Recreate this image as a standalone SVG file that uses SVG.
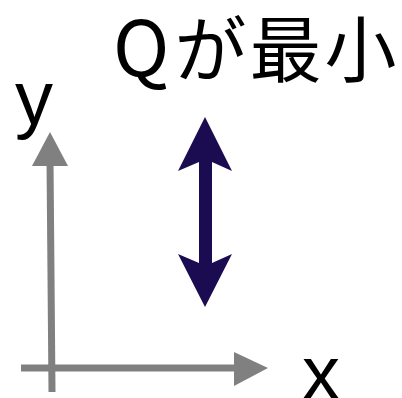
<svg xmlns="http://www.w3.org/2000/svg" width="402" height="398" viewBox="0 0 402 398">
<style>
.t{font-family:"Noto Sans CJK JP","Noto Sans",sans-serif;fill:#000}
.l{font-family:"Liberation Sans",Arial,sans-serif;fill:#000;font-size:76px}
.ax{stroke:#808080;stroke-width:7;fill:none}
.axh{fill:#808080}
.dbl{fill:#1b0c52}
</style>
<rect width="402" height="398" fill="#fff"/>
<g id="axes">
<line class="ax" x1="50" y1="160" x2="52" y2="392"/>
<polygon class="axh" points="50,132 68,166 32,166"/>
<line class="ax" x1="21" y1="368" x2="240" y2="368"/>
<polygon class="axh" points="268,368 234,352 234,386"/>
</g>
<g id="arrow">
<polygon class="dbl" points="205,117 232,171 212,162 212,263 232,254 205,307 178,254 199,263 199,162 178,171"/>
</g>
<g id="labels">
<text class="t" x="113" y="76" font-size="72" letter-spacing="3"><tspan font-size="76" letter-spacing="5">Q</tspan>が最小</text>
<text class="l" x="15" y="124">y</text>
<text class="l" x="302" y="399">x</text>
</g>
</svg>
